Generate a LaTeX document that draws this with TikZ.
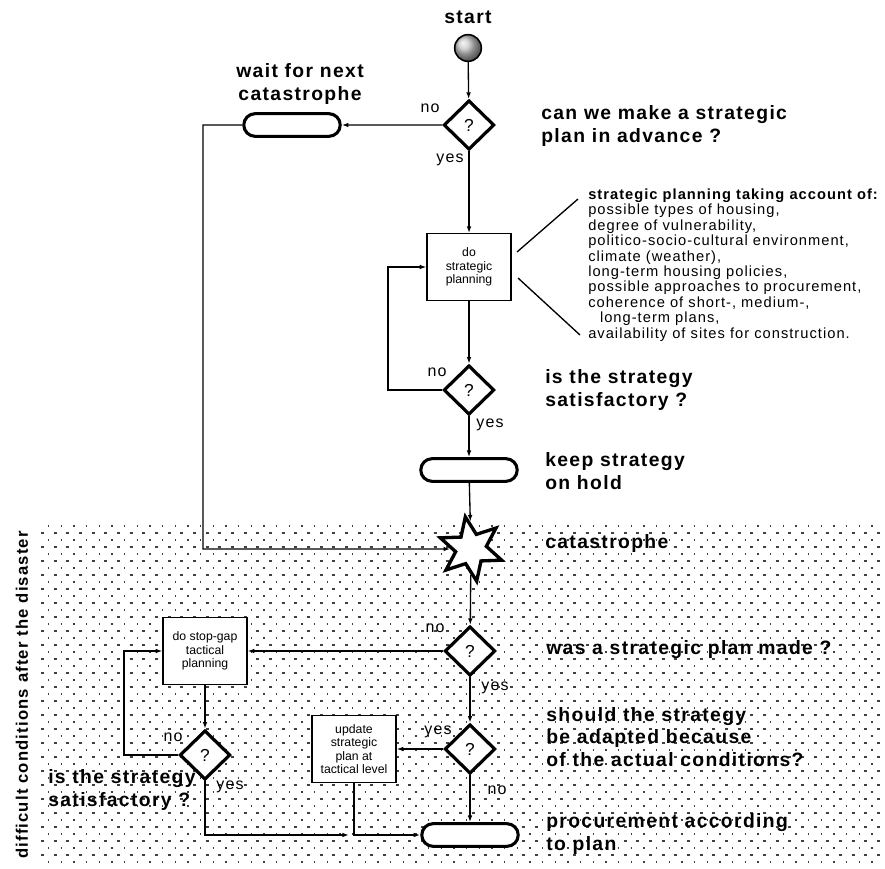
\documentclass[tikz,border=0pt]{standalone}
\usepackage{fontspec}
\setmainfont{Liberation Sans}
\newfontfamily\widefamily[LetterSpace=7]{Liberation Sans}
\usetikzlibrary{arrows.meta,calc,positioning,shapes.geometric,shapes.misc}
\newcommand{\lblfont}{\widefamily\bfseries\fontsize{14.5}{17}\selectfont}
\newcommand{\zonefont}{\widefamily\bfseries\fontsize{12.5}{15}\selectfont}
\newcommand{\ynfont}{\widefamily\fontsize{12}{14}\selectfont}
\newcommand{\askfont}{\widefamily\fontsize{13}{15}\selectfont}
\newcommand{\listfont}{\widefamily\fontsize{11}{11.6}\selectfont}
\newcommand{\boxfont}{\fontsize{9.2}{10}\selectfont}
\tikzset{
  lbl/.style={font=\lblfont,align=left,inner sep=0pt},
  yn/.style={font=\ynfont,inner sep=0pt},
  ask/.style={diamond,draw,line width=2.4pt,fill=white,minimum width=38pt,
    minimum height=37pt,inner sep=0pt,font=\askfont},
  pill/.style={rounded rectangle,draw,line width=2.3pt,fill=white,
    minimum width=79pt,minimum height=17pt},
  box/.style={rectangle,draw,line width=0.9pt,fill=white,minimum width=63pt,
    minimum height=50pt,align=center,font=\boxfont,inner sep=1pt},
  burst/.style={star,star points=6,star point ratio=2.1,draw,line width=2.5pt,
    fill=white,minimum size=49pt,rotate=10},
  startdot/.style={circle,draw,line width=1.2pt,shading=ball,ball color=gray!45,
    minimum size=20pt},
  flow/.style={line width=1pt,-{Latex[length=5pt,width=3.5pt]}},
  plain/.style={line width=1pt},
  dotrow/.style={line width=1.1pt,black!75,dash pattern=on 1.1pt off 8.4pt},
  dashrow/.style={line width=1.1pt,black!75,dash pattern=on 2.2pt off 7.3pt},
}
\begin{document}
\begin{tikzpicture}[x=0.75pt,y=-0.75pt]
  \useasboundingbox (0,0) rectangle (885,868);
  % after the disaster: dotted ground
  \foreach \y in {526,540,...,866}
    \draw[dotrow] (48,\y) -- (882,\y);
  \foreach \y in {533,547,...,861}
    \draw[dashrow] (41,\y) -- (882,\y);
  \node[lbl,font=\zonefont,rotate=90] (zone) at (22,695) {difficult conditions after the disaster};

  % before the disaster
  \node[lbl] (startlbl) at (468,17) {start};
  \node[startdot] (start) at (468,48) {};
  \node[ask] (q1) at (469,125) {?};
  \node[yn] at (430,108) {no};
  \node[yn] at (450,160) {yes};
  \node[lbl,anchor=west] (q1txt) at (541,126) {can we make a strategic\\plan in advance ?};
  \node[pill] (wait) at (292,125) {};
  \node[lbl,align=center] (waitlbl) at (300,84) {wait for next\\catastrophe};
  \node[box] (plan) at (469,267) {do\\strategic\\planning};
  \node[font=\listfont,align=left,inner sep=0pt,anchor=west] (factors) at (588,265)
    {{\bfseries strategic planning taking account of:}\\
     possible types of housing,\\
     degree of vulnerability,\\
     politico-socio-cultural environment,\\
     climate (weather),\\
     long-term housing policies,\\
     possible approaches to procurement,\\
     coherence of short-, medium-,\\
     \hspace*{0.8em}long-term plans,\\
     availability of sites for construction.};
  \coordinate (f1) at (517,252);
  \coordinate (f2) at (578,199);
  \coordinate (f3) at (518,278);
  \coordinate (f4) at (580,335);
  \draw[plain] (f1) -- (f2);
  \draw[plain] (f3) -- (f4);
  \node[ask] (q2) at (469,390) {?};
  \node[yn] at (437,372) {no};
  \node[yn] at (490,425) {yes};
  \node[lbl,anchor=west] (q2txt) at (545,390) {is the strategy\\satisfactory ?};
  \coordinate (loop1) at (388,390);
  \node[pill] (hold) at (469,470) {};
  \node[lbl,anchor=west] (holdtxt) at (545,471) {keep strategy\\on hold};
  \node[burst] (cat) at (471,549) {};
  \node[lbl,anchor=west] (cattxt) at (545,543) {catastrophe};
  \coordinate (c1) at (203,549);

  % after the disaster
  \node[ask] (q3) at (470,651) {?};
  \node[yn] at (435,628) {no};
  \node[yn] at (495,688) {yes};
  \node[lbl,anchor=west] (q3txt) at (546,650) {was a strategic plan made ?};
  \node[box] (stopgap) at (205,651) {do stop-gap\\tactical\\planning};
  \node[ask] (q4) at (470,749) {?};
  \node[yn] at (438,732) {yes};
  \node[yn] at (497,790) {no};
  \node[lbl,anchor=west] (q4txt) at (546,737) {should the strategy\\be adapted because\\of the actual conditions?};
  \node[box] (update) at (354,749) {update\\strategic\\plan at\\tactical level};
  \node[pill] (proc) at (470,835) {};
  \node[lbl,anchor=west] (proctxt) at (546,834) {procurement according\\to plan};
  \node[ask] (q5) at (205,755) {?};
  \node[yn] at (173,737) {no};
  \node[yn] at (230,787) {yes};
  \node[lbl,anchor=west] (q5txt) at (48,790) {is the strategy\\satisfactory ?};
  \coordinate (loop2) at (124,755);
  \coordinate (join) at (349,835);

  % connectors
  \draw[flow] (start) -- (q1);
  \draw[flow] (q1) -- (wait);
  \draw[flow] (q1) -- (plan);
  \draw[flow] (wait.west) -| (c1) -- (cat);
  \draw[flow] (plan) -- (q2);
  \draw[flow] (q2) -- (loop1) |- (plan);
  \draw[flow] (q2) -- (hold);
  \draw[flow] (hold) -- (cat);
  \draw[flow] (cat) -- (q3);
  \draw[flow] (q3) -- (stopgap);
  \draw[flow] (q3) -- (q4);
  \draw[flow] (q4) -- (update);
  \draw[flow] (q4) -- (proc);
  \draw[flow] (stopgap) -- (q5);
  \draw[flow] (q5) -- (loop2) |- (stopgap);
  \draw[flow] (q5) |- (join);
  \draw[flow] (update) |- (proc);
\end{tikzpicture}
\end{document}
